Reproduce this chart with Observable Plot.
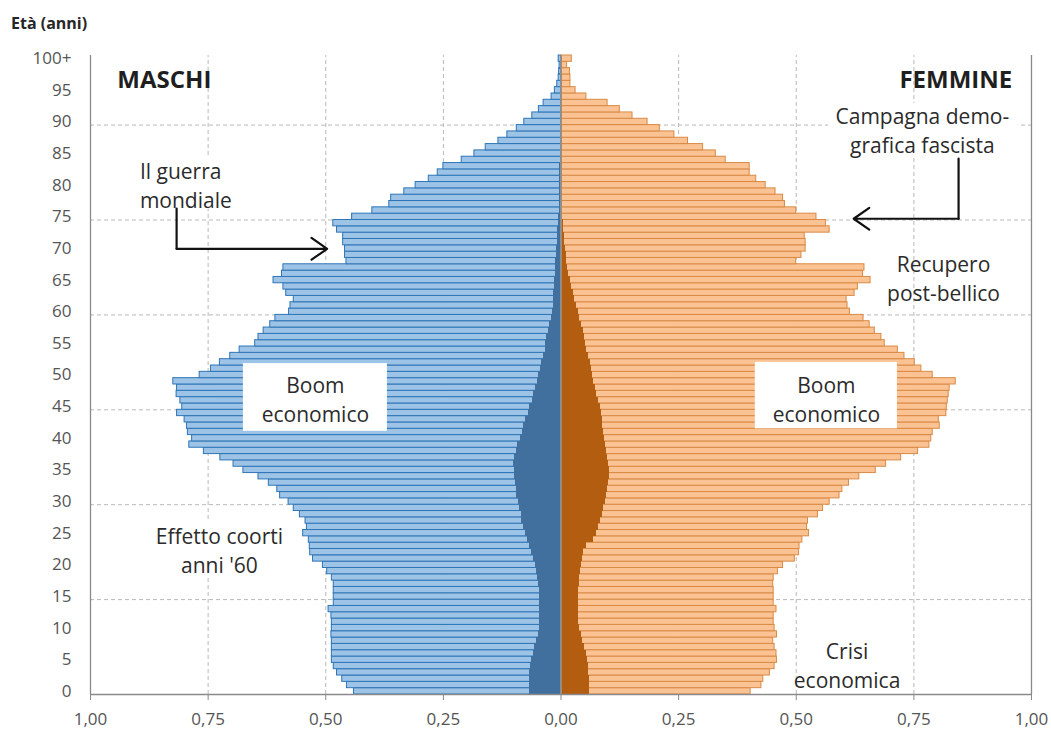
<!DOCTYPE html>
<html>
<head>
<meta charset="utf-8">
<script src="https://cdn.jsdelivr.net/npm/d3@7"></script>
<script src="https://cdn.jsdelivr.net/npm/@observablehq/plot@0.6"></script>
<style>
  body { margin: 0; background: #fff; }
  #wrap { position: relative; width: 1051px; height: 729px; }
  #ylab { position: absolute; left: 11px; top: 15px; font: bold 16px/16px 'Open Sans', sans-serif; color: #262626; }
  #wrap svg { position: absolute; left: 0; top: 0; }
</style>
</head>
<body>
<div id="wrap"><div id="ylab">Età (anni)</div></div>
<script>
// Età 0 … 100+ (categorie)
const ages = d3.range(0, 101);

// Quota % della popolazione totale per età – maschi (totale)
const maschi = [
  0.440, 0.455, 0.465, 0.476, 0.483, 0.487, 0.487, 0.487, 0.487, 0.488,
  0.487, 0.487, 0.488, 0.494, 0.483, 0.483, 0.483, 0.483, 0.487, 0.497,
  0.506, 0.527, 0.533, 0.534, 0.536, 0.548, 0.540, 0.543, 0.555, 0.568,
  0.579, 0.597, 0.603, 0.621, 0.643, 0.675, 0.696, 0.724, 0.759, 0.790,
  0.784, 0.793, 0.795, 0.800, 0.816, 0.805, 0.809, 0.817, 0.816, 0.824,
  0.768, 0.744, 0.725, 0.703, 0.683, 0.650, 0.643, 0.632, 0.618, 0.607,
  0.578, 0.575, 0.568, 0.584, 0.590, 0.611, 0.593, 0.590, 0.456, 0.459,
  0.459, 0.463, 0.463, 0.476, 0.484, 0.444, 0.401, 0.365, 0.361, 0.333,
  0.309, 0.281, 0.262, 0.250, 0.211, 0.184, 0.160, 0.133, 0.114, 0.094,
  0.078, 0.061, 0.047, 0.037, 0.020, 0.013, 0.008, 0.005, 0.004, 0.003,
  0.005
];

// Femmine (totale)
const femmine = [
  0.403, 0.426, 0.430, 0.444, 0.454, 0.459, 0.458, 0.454, 0.451, 0.459,
  0.454, 0.452, 0.452, 0.458, 0.452, 0.452, 0.452, 0.451, 0.452, 0.461,
  0.472, 0.497, 0.506, 0.507, 0.513, 0.527, 0.523, 0.525, 0.546, 0.557,
  0.571, 0.592, 0.598, 0.612, 0.634, 0.669, 0.691, 0.723, 0.759, 0.783,
  0.787, 0.790, 0.805, 0.803, 0.819, 0.820, 0.822, 0.824, 0.826, 0.839,
  0.790, 0.766, 0.752, 0.730, 0.716, 0.688, 0.681, 0.667, 0.656, 0.643,
  0.614, 0.609, 0.607, 0.624, 0.631, 0.658, 0.642, 0.645, 0.500, 0.511,
  0.520, 0.520, 0.518, 0.571, 0.563, 0.543, 0.500, 0.476, 0.472, 0.456,
  0.435, 0.415, 0.401, 0.401, 0.350, 0.329, 0.302, 0.270, 0.241, 0.210,
  0.184, 0.152, 0.125, 0.099, 0.054, 0.031, 0.020, 0.020, 0.019, 0.013,
  0.023
];

// Maschi stranieri
const maschiStranieri = [
  0.068, 0.068, 0.067, 0.066, 0.064, 0.062, 0.059, 0.056, 0.052, 0.048,
  0.046, 0.045, 0.045, 0.045, 0.045, 0.045, 0.046, 0.047, 0.049, 0.052,
  0.055, 0.058, 0.063, 0.068, 0.072, 0.076, 0.080, 0.083, 0.085, 0.088,
  0.091, 0.094, 0.095, 0.097, 0.099, 0.099, 0.100, 0.098, 0.095, 0.093,
  0.087, 0.082, 0.079, 0.076, 0.070, 0.066, 0.061, 0.058, 0.055, 0.051,
  0.047, 0.044, 0.041, 0.037, 0.034, 0.032, 0.030, 0.027, 0.024, 0.021,
  0.019, 0.017, 0.016, 0.015, 0.014, 0.013, 0.012, 0.012, 0.011, 0.010,
  0.009, 0.008, 0.008, 0.007, 0.006, 0.005, 0.004, 0.004, 0.004, 0.003,
  0.003, 0.003, 0.003, 0.003, 0.002, 0.002, 0.002, 0.002, 0.002, 0.002,
  0.002, 0.002, 0.002, 0.002, 0.002, 0.002, 0.002, 0.002, 0.002, 0.002,
  0.002
];

// Femmine straniere
const femmineStraniere = [
  0.061, 0.061, 0.060, 0.059, 0.058, 0.056, 0.054, 0.051, 0.046, 0.043,
  0.040, 0.038, 0.037, 0.037, 0.037, 0.037, 0.038, 0.039, 0.040, 0.041,
  0.043, 0.045, 0.048, 0.055, 0.070, 0.076, 0.080, 0.085, 0.089, 0.091,
  0.094, 0.096, 0.099, 0.102, 0.104, 0.104, 0.101, 0.099, 0.097, 0.094,
  0.092, 0.090, 0.089, 0.088, 0.087, 0.085, 0.080, 0.076, 0.073, 0.069,
  0.066, 0.064, 0.062, 0.059, 0.055, 0.052, 0.050, 0.048, 0.044, 0.040,
  0.037, 0.034, 0.029, 0.026, 0.023, 0.020, 0.017, 0.014, 0.012, 0.011,
  0.009, 0.008, 0.007, 0.006, 0.005, 0.004, 0.004, 0.004, 0.003, 0.003,
  0.003, 0.003, 0.003, 0.003, 0.003, 0.003, 0.003, 0.003, 0.003, 0.003,
  0.003, 0.003, 0.003, 0.003, 0.003, 0.003, 0.003, 0.003, 0.003, 0.003,
  0.003
];

// Etichette degli assi
const yTickAges   = [0, 5, 10, 15, 20, 25, 30, 35, 40, 45, 50, 55, 60, 65, 70, 75, 80, 85, 90, 95, 100];
const yTickLabels = ["0", "5", "10", "15", "20", "25", "30", "35", "40", "45", "50", "55", "60", "65", "70", "75", "80", "85", "90", "95", "100+"];
const xTicks = [-1, -0.75, -0.5, -0.25, 0, 0.25, 0.5, 0.75, 1];
const xGrid = [-0.75, -0.5, -0.25, 0.25, 0.5, 0.75];
const yGrid = [15, 30, 45, 60, 75, 90];

const rows = ages.map((a, i) => ({
  age: a, m: maschi[i], f: femmine[i], ms: maschiStranieri[i], fs: femmineStraniere[i]
}));

const ink = "#2b2b2b";
const gridStroke = "#b9b9b9";
const axisStroke = "#8a8a8a";

const titles = [
  {text: "MASCHI", x: -0.943, y: 97.0, anchor: "start"},
  {text: "FEMMINE", x: 0.959, y: 97.0, anchor: "end"}
];
const notesStart = [
  {text: "Il guerra\nmondiale", x: -0.895, y: 80.6}
];
const notesMiddle = [
  {text: "Campagna demo-\ngrafica fascista", x: 0.768, y: 89.3},
  {text: "Recupero\npost-bellico", x: 0.813, y: 65.9},
  {text: "Boom\neconomico", x: -0.522, y: 46.8},
  {text: "Boom\neconomico", x: 0.564, y: 46.9},
  {text: "Effetto coorti\nanni '60", x: -0.726, y: 23.0},
  {text: "Crisi\neconomica", x: 0.608, y: 4.8}
];
const boxes = [
  {x1: -0.675, x2: -0.369, y1: 41.6, y2: 52.3},
  {x1: 0.413, x2: 0.715, y1: 42.0, y2: 52.5},
  {x1: -0.906, x2: -0.673, y1: 76.7, y2: 84.9},
  {x1: -0.881, x2: -0.575, y1: 18.8, y2: 27.2},
  {x1: 0.569, x2: 0.972, y1: 84.9, y2: 93.4}
];
const arrowLegs = [
  [{x: -0.817, y: 76.8}, {x: -0.817, y: 70.45}],
  [{x: 0.845, y: 84.7}, {x: 0.845, y: 75.2}]
];
const arrowHeads = [
  {x1: -0.817, y1: 70.45, x2: -0.497, y2: 70.45},
  {x1: 0.845, y1: 75.2, x2: 0.622, y2: 75.2}
];

const fmt = d => Math.abs(d).toFixed(2).replace(".", ",");

const chart = Plot.plot({
  width: 1051,
  height: 729,
  marginLeft: 90,
  marginRight: 20,
  marginTop: 55,
  marginBottom: 35,
  style: {fontFamily: "'Open Sans', sans-serif", background: "transparent", overflow: "visible"},
  x: {domain: [-1, 1]},
  y: {domain: [0, 101]},
  marks: [
    Plot.ruleX(xGrid, {y1: 0, y2: 101, stroke: gridStroke, strokeDasharray: "4,3"}),
    Plot.ruleY(yGrid, {x1: -1, x2: 1, stroke: gridStroke, strokeDasharray: "4,3"}),
    Plot.rect(rows, {x1: 0, x2: d => -d.m, y1: "age", y2: d => d.age + 1,
      fill: "#9dc3e6", stroke: "#2e75b6", strokeWidth: 1}),
    Plot.rect(rows, {x1: 0, x2: "f", y1: "age", y2: d => d.age + 1,
      fill: "#fbc293", stroke: "#d88a45", strokeWidth: 1}),
    Plot.rect(rows, {x1: 0, x2: d => -d.ms, y1: "age", y2: d => d.age + 1,
      fill: "#41709e", shapeRendering: "crispEdges"}),
    Plot.rect(rows, {x1: 0, x2: "fs", y1: "age", y2: d => d.age + 1,
      fill: "#b35d10", shapeRendering: "crispEdges"}),
    Plot.ruleX([0], {y1: 0, y2: 101, stroke: "#a3a3a3", strokeWidth: 1.3}),
    Plot.ruleX([-1, 1], {y1: 0, y2: 101, stroke: axisStroke, strokeWidth: 1.3}),
    Plot.ruleY([0], {x1: -1, x2: 1, stroke: axisStroke, strokeWidth: 1.3}),
    Plot.rect(boxes, {x1: "x1", x2: "x2", y1: "y1", y2: "y2", fill: "white"}),
    Plot.axisX({ticks: xTicks, tickFormat: fmt, tickSize: 6, tickPadding: 12,
      fontSize: 17, stroke: axisStroke, fill: "#555", label: null}),
    Plot.axisY({ticks: yTickAges.map(a => a + 0.5),
      tickFormat: d => yTickLabels[yTickAges.indexOf(d - 0.5)],
      tickSize: 0, tickPadding: 19, fontSize: 17, fill: "#555", label: null}),
    Plot.text(titles.filter(d => d.anchor === "start"), {x: "x", y: "y", text: "text",
      textAnchor: "start", fontSize: 24, fontWeight: "bold", fill: "#1f1f1f"}),
    Plot.text(titles.filter(d => d.anchor === "end"), {x: "x", y: "y", text: "text",
      textAnchor: "end", fontSize: 24, fontWeight: "bold", fill: "#1f1f1f"}),
    Plot.text(notesStart, {x: "x", y: "y", text: "text", textAnchor: "start",
      fontSize: 21, lineHeight: 1.36, fill: ink}),
    Plot.text(notesMiddle, {x: "x", y: "y", text: "text", textAnchor: "middle",
      fontSize: 21, lineHeight: 1.38, fill: ink}),
    ...arrowLegs.map(leg => Plot.line(leg, {x: "x", y: "y", stroke: "#111", strokeWidth: 2.2})),
    Plot.arrow(arrowHeads, {x1: "x1", y1: "y1", x2: "x2", y2: "y2",
      stroke: "#111", strokeWidth: 2.2, headLength: 13, headAngle: 70})
  ]
});

document.getElementById("wrap").appendChild(chart);
</script>
</body>
</html>
